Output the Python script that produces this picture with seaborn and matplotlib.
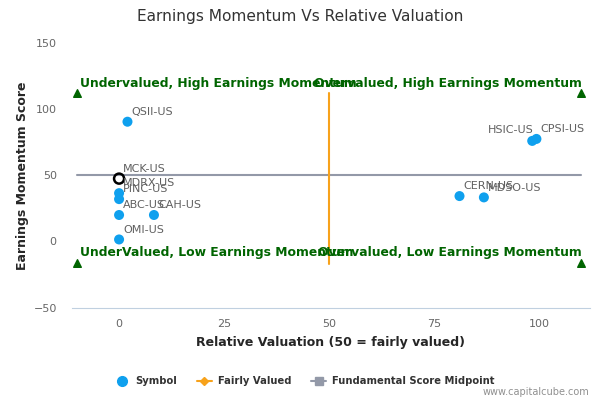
import matplotlib
matplotlib.use("Agg")
import matplotlib.pyplot as plt
import matplotlib.lines as mlines
import pandas as pd
import seaborn as sns

# data
symbols = ["QSII-US", "MDRX-US", "PINC-US", "ABC-US", "CAH-US", "OMI-US",
           "HSIC-US", "CPSI-US", "CERN-US", "MDSO-US"]
valuation = [2.0, 0.0, 0.0, 0.0, 8.3, 0.0, 98.3, 99.3, 81.0, 86.8]
momentum = [90.5, 36.5, 32.0, 20.0, 20.0, 1.5, 76.0, 77.5, 34.3, 33.3]
# which side of the point each label sits on
label_side = ["right", "right", "right", "right", "right", "right",
              "left", "right", "right", "right"]

focus_symbol = "MCK-US"
focus_valuation = 0.0
focus_momentum = 47.5

quadrant_labels = ["Undervalued, High Earnings Momentum", "Overvalued, High Earnings Momentum",
                   "UnderValued, Low Earnings Momentum", "Overvalued, Low Earnings Momentum"]
quadrant_x = [-10, 110, -10, 110]
quadrant_y = [112, 112, -16, -16]

fair_value = 50
midpoint = 50
x_ticks = [0, 25, 50, 75, 100]
y_ticks = [-50, 0, 50, 100, 150]

BLUE = "#0fa0ee"
ORANGE = "#f7a21b"
GREY = "#9399a8"
GREEN = "#006400"
AXIS = "#c0d0e0"

sns.set_style("white")
plt.rcParams["font.family"] = ["DejaVu Sans"]

fig = plt.figure(figsize=(6, 4), dpi=100)
ax = fig.add_axes([0.12, 0.231, 0.863, 0.6615])

df = pd.DataFrame({"symbol": symbols, "valuation": valuation, "momentum": momentum})

# reference lines
ax.plot([-10, 110], [midpoint, midpoint], color=GREY, lw=1.5, zorder=1)
ax.plot([fair_value, fair_value], [112, -17], color=ORANGE, lw=1.5, zorder=1)

sns.scatterplot(data=df, x="valuation", y="momentum", color=BLUE, s=52,
                edgecolor="none", ax=ax, zorder=3, legend=False)
ax.scatter([focus_valuation], [focus_momentum], s=52, facecolor="none",
           edgecolor="black", linewidth=1.8, zorder=4)

rows = list(zip(symbols, valuation, momentum, label_side))
rows.append((focus_symbol, focus_valuation, focus_momentum, "right"))
for name, xv, yv, side in rows:
    if side == "right":
        ax.annotate(name, (xv, yv), xytext=(3, 7), textcoords="offset points",
                    fontsize=8, color="#606060", ha="left", va="center", zorder=5)
    else:
        ax.annotate(name, (xv, yv), xytext=(1, 8), textcoords="offset points",
                    fontsize=8, color="#606060", ha="right", va="center", zorder=5)

# quadrant markers and captions
for text, qx, qy in zip(quadrant_labels, quadrant_x, quadrant_y):
    ax.scatter([qx], [qy], marker="^", color=GREEN, s=30, zorder=4)
    ha = "left" if qx < fair_value else "right"
    dx = 2 if ha == "left" else 0
    ax.annotate(text, (qx, qy), xytext=(dx, 7), textcoords="offset points",
                fontsize=8.9, fontweight="bold", color=GREEN, ha=ha, va="center", zorder=5)

ax.set_xlim(-11.2, 112)
ax.set_ylim(-50, 150)
ax.set_xticks(x_ticks)
ax.set_yticks(y_ticks)
for side in ["top", "right", "left"]:
    ax.spines[side].set_visible(False)
ax.spines["bottom"].set_color(AXIS)
ax.tick_params(axis="x", colors=AXIS, length=5, direction="out", labelcolor="#666666", labelsize=8)
ax.tick_params(axis="y", length=0, pad=11, labelcolor="#666666", labelsize=8)
ax.set_xlabel("Relative Valuation (50 = fairly valued)", fontsize=9, fontweight="bold", labelpad=5)
ax.set_ylabel("Earnings Momentum Score", fontsize=9, fontweight="bold", labelpad=3)

fig.text(0.5, 0.96, "Earnings Momentum Vs Relative Valuation", ha="center", va="center",
         fontsize=11.1, color="#333333")

handles = [
    mlines.Line2D([], [], color=BLUE, marker="o", linestyle="none", markersize=7),
    mlines.Line2D([], [], color=ORANGE, marker="D", markersize=4, lw=1.5),
    mlines.Line2D([], [], color=GREY, marker="s", markersize=6, lw=1.5),
]
leg = fig.legend(handles, ["Symbol", "Fairly Valued", "Fundamental Score Midpoint"],
                 loc="center", bbox_to_anchor=(0.5075, 0.047), ncol=3, frameon=False,
                 prop={"size": 7.2, "weight": "bold"}, handlelength=1.5,
                 handletextpad=0.6, columnspacing=2.0)
for t in leg.get_texts():
    t.set_color("#333333")

fig.text(0.982, 0.02, "www.capitalcube.com", ha="right", va="center", fontsize=7, color="#909090")

fig.savefig("out.png", dpi=100)
